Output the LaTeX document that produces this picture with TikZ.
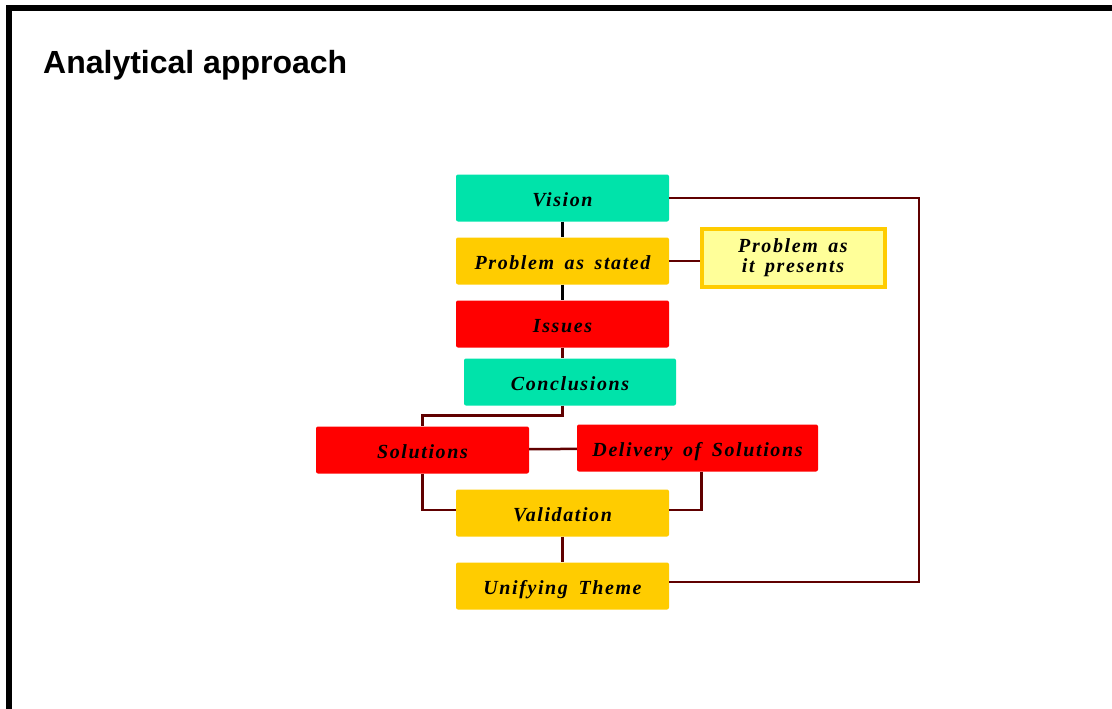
\documentclass[tikz,border=0pt]{standalone}
\usepackage{fontspec}
\usepackage{tikz}
\usepackage{xcolor}
\usetikzlibrary{positioning}
\setmainfont{Liberation Serif}
\newfontfamily\stagefamily[LetterSpace=8, WordSpace=1.6]{Liberation Serif}
\newfontfamily\titlefamily{Liberation Sans}
\newcommand{\stagefont}{\stagefamily\bfseries\itshape\fontsize{20}{20}\selectfont}
\newcommand{\titlefont}{\titlefamily\bfseries\fontsize{32}{38}\selectfont}
\definecolor{mint}{RGB}{0,227,170}
\definecolor{gold}{RGB}{255,204,0}
\definecolor{paleyellow}{RGB}{255,255,153}
\definecolor{linkred}{RGB}{96,0,0}
\tikzstyle{stage} = [rectangle, rounded corners=2pt, minimum width=213pt, minimum height=47pt, inner sep=0pt, text height=17pt, text depth=0pt, text centered, font=\stagefont]
\tikzstyle{greenstage} = [stage, fill=mint]
\tikzstyle{goldstage} = [stage, fill=gold]
\tikzstyle{redstage} = [stage, fill=red]
\tikzstyle{notebox} = [rectangle, draw=gold, line width=4pt, fill=paleyellow, minimum width=183pt, minimum height=58pt, inner sep=0pt, align=center, font=\stagefont]
\tikzstyle{link} = [line width=2.5pt, linkred]
\tikzstyle{blacklink} = [line width=2.5pt, black]

\begin{document}
\begin{tikzpicture}[x=1pt, y=-1pt, node distance=63pt]

        % Frame and title
        \useasboundingbox (0,0) rectangle (1112,709);
        \draw [line width=6pt] (1120,8) -- (9,8) -- (9,720);
        \node (title) [anchor=base west, inner sep=0pt, font=\titlefont] at (43,74) {Analytical approach};

        % Nodes
        \node (vision) [greenstage] at (562.5,198) {Vision};
        \node (stated) [goldstage, below of=vision] {Problem as stated};
        \node (presents) [notebox, right of=stated, xshift=167.5pt, yshift=3pt] {Problem as\\ it presents};
        \node (issues) [redstage, below of=stated] {Issues};
        \node (concl) [greenstage, below of=issues, xshift=7.5pt, yshift=5pt, minimum width=212pt] {Conclusions};
        \node (sol) [redstage, below of=concl, xshift=-147.5pt, yshift=-5pt] {Solutions};
        \node (deliv) [redstage, right of=sol, xshift=212pt, yshift=2pt, minimum width=241pt] {Delivery of Solutions};
        \node (valid) [goldstage, below of=sol, xshift=140pt] {Validation};
        \node (unify) [goldstage, below of=valid, yshift=-10pt] {Unifying Theme};
        \coordinate (loop) at (919,0);

        % Connectors
        \draw [blacklink] (vision) -- (stated);
        \draw [blacklink] (stated) -- (issues);
        \draw [link] (stated.east) -- (stated.east -| presents.west);
        \draw [link] (issues.south) -- (issues.south |- concl.north);
        \draw [link] (issues.south |- concl.south) -- ++(0,10) -| (sol.north);
        \draw [link] (sol) -- (deliv);
        \draw [link] (sol.south) |- ([yshift=3pt]valid.west);
        \draw [link] ([xshift=4pt]deliv.south) |- ([yshift=3pt]valid.east);
        \draw [link] (valid) -- (unify);
        \draw [link] ([yshift=4pt]unify.east) -| (loop |- vision.east) -- (vision.east);

\end{tikzpicture}
\end{document}
